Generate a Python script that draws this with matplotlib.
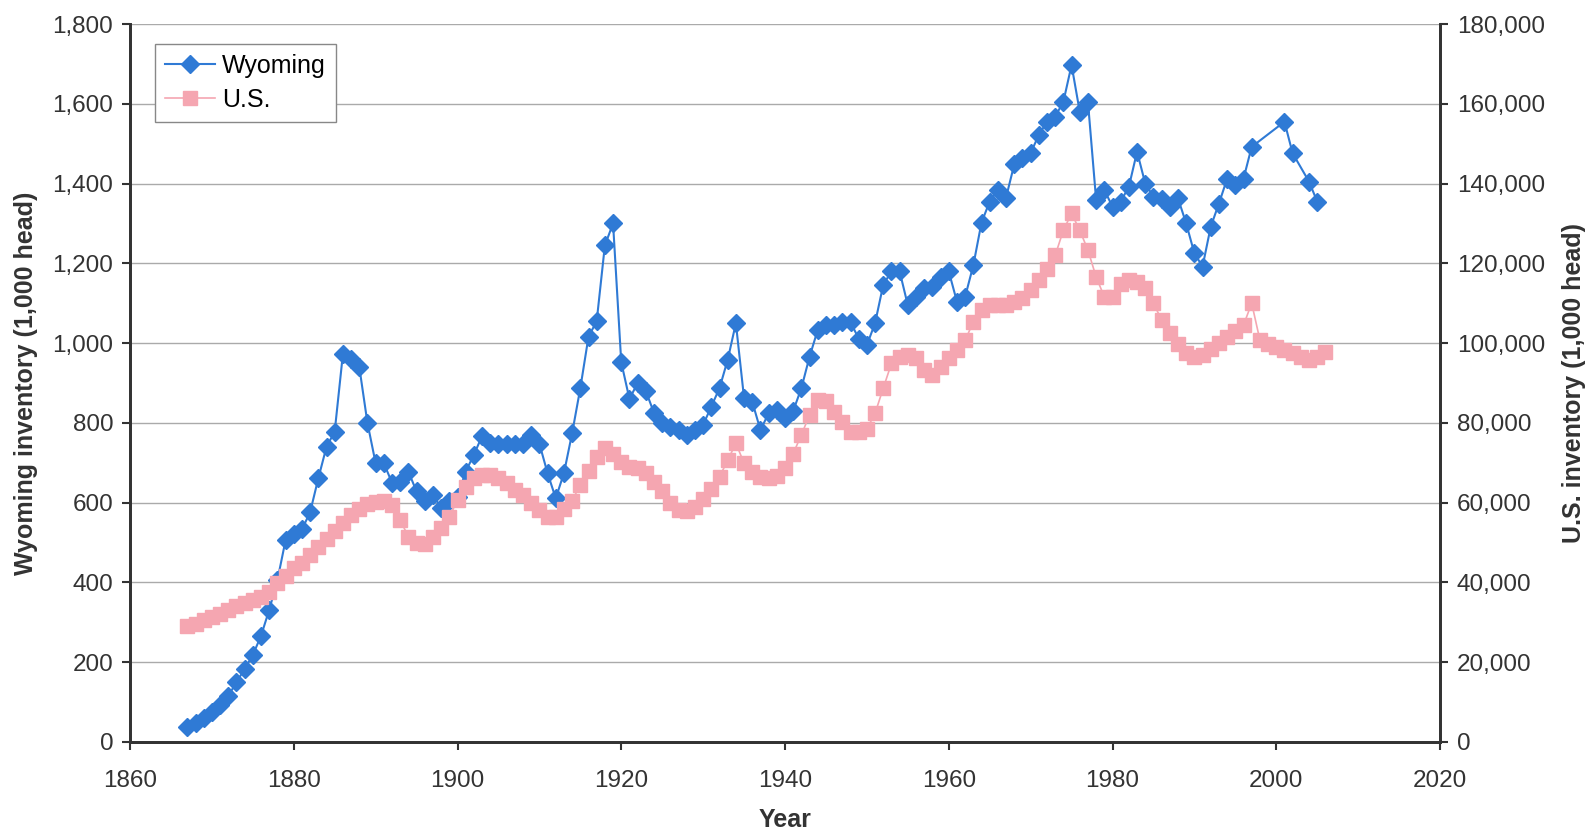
import matplotlib
matplotlib.use("Agg")
import matplotlib.pyplot as plt
from matplotlib.ticker import FuncFormatter

# Wyoming cattle inventory (1,000 head), yearly 1867-1997 then a few later years
wy_years = list(range(1867, 1998)) + [2001, 2002, 2004, 2005]
wy_values = [
    38, 48, 60, 75, 92, 115, 150, 183, 218, 266,
    331, 405, 506, 522, 533, 576, 661, 740, 778, 972,
    960, 941, 800, 699, 699, 650, 653, 678, 628, 603,
    620, 586, 603, 615, 678, 720, 767, 750, 748, 748,
    748, 748, 770, 748, 674, 611, 674, 774, 887, 1016,
    1055, 1245, 1300, 952, 860, 900, 880, 825, 800, 790,
    782, 770, 782, 795, 841, 887, 958, 1050, 862, 853,
    782, 824, 833, 812, 830, 887, 966, 1033, 1045, 1045,
    1053, 1053, 1011, 995, 1050, 1146, 1180, 1180, 1095, 1116,
    1137, 1141, 1166, 1180, 1104, 1116, 1195, 1302, 1355, 1384,
    1365, 1448, 1463, 1476, 1522, 1555, 1568, 1605, 1697, 1580,
    1605, 1359, 1384, 1342, 1355, 1392, 1480, 1400, 1367, 1361,
    1342, 1363, 1300, 1225, 1192, 1292, 1350, 1412, 1396, 1412,
    1492,
    1555, 1476, 1405, 1355,
]

# U.S. cattle inventory (1,000 head), 1867-2006
us_years = list(range(1867, 2007))
us_values = [
    29000, 29700, 30500, 31300, 32200, 33000, 34000, 34800, 35600, 36300,
    37700, 39800, 41500, 43500, 45000, 47000, 49000, 51000, 53000, 55000,
    57000, 58500, 59700, 60200, 60300, 59500, 55600, 51500, 49800, 49600,
    51500, 53600, 56500, 60600, 64000, 66100, 66900, 66900, 66100, 64900,
    63200, 62000, 59900, 58200, 56500, 56500, 58500, 60500, 64500, 68000,
    71500, 73600, 72300, 70200, 69000, 68600, 67400, 65300, 62800, 59900,
    58200, 57800, 59000, 61000, 63500, 66500, 70600, 74900, 69900, 67800,
    66500, 66100, 66800, 68800, 72300, 77000, 82000, 85700, 85600, 82800,
    80300, 77800, 77800, 78500, 82400, 88700, 94900, 96600, 97000, 96200,
    93300, 92000, 94100, 96200, 98200, 100700, 105300, 108300, 109500, 109500,
    109500, 110400, 111200, 113300, 115800, 118700, 122000, 128300, 132500, 128300,
    123300, 116600, 111600, 111600, 114900, 115800, 115400, 113700, 110000, 105800,
    102500, 99900, 97400, 96500, 97000, 98500, 100000, 101500, 103000, 104500,
    110000, 100800, 99900, 99100, 98200, 97400, 96600, 95800, 96600, 97800,
]

x_ticks = list(range(1860, 2021, 20))
left_ticks = list(range(0, 1801, 200))
right_ticks = list(range(0, 180001, 20000))

plt.rcParams['font.family'] = ['Liberation Sans', 'DejaVu Sans']

BLUE = '#2F7AD5'
PINK = '#F5A6B1'
DARK = '#333333'

fig = plt.figure(figsize=(15.95, 8.31), dpi=100)
ax = fig.add_axes([130 / 1595, 89 / 831, 1310 / 1595, 718 / 831])
ax2 = ax.twinx()

l1, = ax.plot(wy_years, wy_values, color=BLUE, lw=1.5, marker='D',
              markersize=9, markerfacecolor=BLUE, markeredgecolor=BLUE,
              label='Wyoming')
l2, = ax2.plot(us_years, us_values, color=PINK, lw=1.2, marker='s',
               markersize=9.5, markerfacecolor=PINK, markeredgecolor=PINK,
               label='U.S.')

ax.set_xlim(1860, 2020)
ax.set_ylim(0, 1800)
ax2.set_ylim(0, 180000)
ax.set_xticks(x_ticks)
ax.set_yticks(left_ticks)
ax2.set_yticks(right_ticks)

comma = FuncFormatter(lambda v, p: f'{int(v):,}')
ax.yaxis.set_major_formatter(comma)
ax2.yaxis.set_major_formatter(comma)

ax.grid(axis='y', color='#aaaaaa', lw=1)
ax.set_axisbelow(True)

for a in (ax, ax2):
    a.spines['top'].set_visible(False)
    for side in ('left', 'right', 'bottom'):
        a.spines[side].set_color(DARK)
        a.spines[side].set_linewidth(2)
    a.tick_params(axis='both', labelsize=17.5, colors=DARK, length=6, width=1.5,
                  direction='out', pad=6)
ax.tick_params(axis='x', pad=14)

ax.set_xlabel('Year', fontsize=18, fontweight='bold', color=DARK, labelpad=12)
ax.set_ylabel('Wyoming inventory (1,000 head)', fontsize=18,
              fontweight='bold', color=DARK, labelpad=10)
ax2.set_ylabel('U.S. inventory (1,000 head)', fontsize=18,
               fontweight='bold', color=DARK, labelpad=12)

leg = ax2.legend(handles=[l1, l2], loc='upper left',
                 bbox_to_anchor=(0.019, 0.972), fontsize=18, fancybox=False,
                 framealpha=1, edgecolor='#888888', handlelength=2.0,
                 handletextpad=0.3, borderpad=0.4, labelspacing=0.4,
                 borderaxespad=0)
leg.get_frame().set_linewidth(1)

fig.savefig('out.png', dpi=100)
